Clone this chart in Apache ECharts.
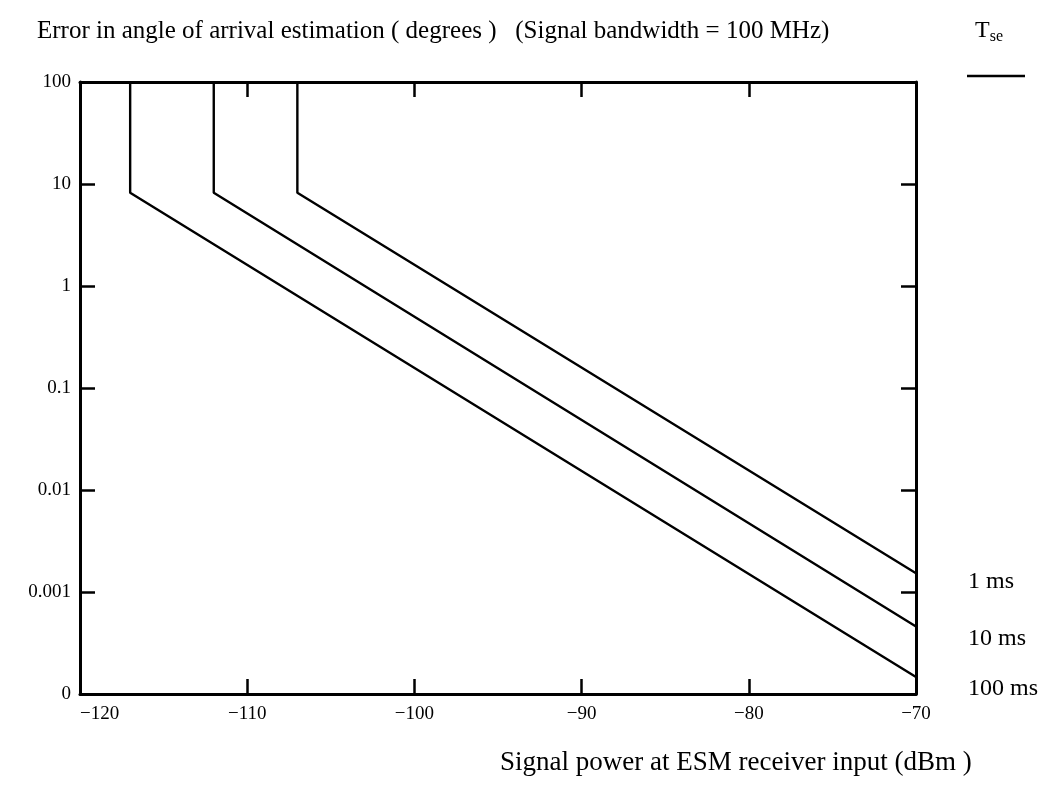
<!DOCTYPE html>
<html>
<head>
<meta charset="utf-8">
<style>
  html, body { margin: 0; padding: 0; background: #fff; }
  #chart { width: 1045px; height: 799px; }
</style>
<script src="https://cdn.jsdelivr.net/npm/echarts@6/dist/echarts.min.js"></script>
</head>
<body>
<div id="chart"></div>
<script>
// Angle-of-arrival error vs. received signal power, for three integration times.
const seriesNames = ['1 ms', '10 ms', '100 ms'];

// [signal power (dBm), AOA error (degrees)]
const curve1ms   = [[-107, 100], [-107, 8.2], [-70, 0.00153]];
const curve10ms  = [[-112, 100], [-112, 8.2], [-70, 0.00046]];
const curve100ms = [[-117, 100], [-117, 8.2], [-70, 0.000147]];

const xTicks = [-120, -110, -100, -90, -80, -70];
// decade exponent -> printed label
const yTickLabels = { '2': '100', '1': '10', '0': '1', '-1': '0.1', '-2': '0.01', '-3': '0.001', '-4': '0' };

const titleText = 'Error in angle of arrival estimation ( degrees )   (Signal bandwidth = 100 MHz)';
const xAxisName = 'Signal power at ESM receiver input (dBm )';

const FONT = 'Liberation Serif';
const INK = '#000';

const chart = echarts.init(document.getElementById('chart'), null, { renderer: 'canvas' });

const tickStyle = { show: true, inside: true, length: 15, lineStyle: { color: INK, width: 2.5 } };
const lineStyle = { show: true, lineStyle: { color: INK, width: 3 } };

function mkSeries(name, data) {
  return {
    name, type: 'line', data,
    xAxisIndex: 0, yAxisIndex: 0,
    showSymbol: false, symbol: 'none',
    lineStyle: { color: INK, width: 2.4 },
    silent: true, animation: false
  };
}

chart.setOption({
  backgroundColor: '#fff',
  animation: false,
  textStyle: { fontFamily: FONT, color: INK },
  grid: { left: 80, top: 82, right: 129, bottom: 105, containLabel: false },
  xAxis: [
    {
      type: 'value', position: 'bottom', min: xTicks[0], max: xTicks[xTicks.length - 1], interval: 10,
      axisLine: lineStyle, axisTick: tickStyle, splitLine: { show: false },
      axisLabel: {
        color: INK, fontFamily: FONT, fontSize: 19, margin: 11, alignMinLabel: 'left',
        formatter: v => String(v).replace('-', '\u2212')
      }
    },
    {
      type: 'value', position: 'top', min: xTicks[0], max: xTicks[xTicks.length - 1], interval: 10,
      axisLine: lineStyle, axisTick: tickStyle, axisLabel: { show: false }, splitLine: { show: false }
    }
  ],
  yAxis: [
    {
      type: 'log', logBase: 10, min: 0.0001, max: 100, position: 'left',
      axisLine: lineStyle, axisTick: tickStyle, splitLine: { show: false }, minorTick: { show: false },
      axisLabel: {
        color: INK, fontFamily: FONT, fontSize: 19, margin: 9,
        formatter: v => yTickLabels[String(Math.round(Math.log10(v)))] || ''
      }
    },
    {
      type: 'log', logBase: 10, min: 0.0001, max: 100, position: 'right',
      axisLine: lineStyle, axisTick: tickStyle, axisLabel: { show: false }, splitLine: { show: false }
    }
  ],
  series: [
    mkSeries(seriesNames[0], curve1ms),
    mkSeries(seriesNames[1], curve10ms),
    mkSeries(seriesNames[2], curve100ms)
  ],
  graphic: [
    { type: 'text', left: 37, top: 19, style: { text: titleText, font: '25px "Liberation Serif"', fill: INK } },
    { type: 'text', left: 975, top: 19, style: {
        text: '{t|T}{s|se}', fill: INK,
        rich: { t: { font: '24px "Liberation Serif"', fill: INK }, s: { font: '16px "Liberation Serif"', fill: INK, padding: [12, 0, 0, 0] } }
    } },
    { type: 'line', shape: { x1: 967, y1: 76, x2: 1025, y2: 76 }, style: { stroke: INK, lineWidth: 2.5 } },
    { type: 'text', left: 968, top: 570, style: { text: seriesNames[0], font: '24px "Liberation Serif"', fill: INK } },
    { type: 'text', left: 968, top: 627, style: { text: seriesNames[1], font: '24px "Liberation Serif"', fill: INK } },
    { type: 'text', left: 968, top: 677, style: { text: seriesNames[2], font: '24px "Liberation Serif"', fill: INK } },
    { type: 'text', left: 500, top: 749, style: { text: xAxisName, font: '27px "Liberation Serif"', fill: INK } }
  ]
});
</script>
</body>
</html>
